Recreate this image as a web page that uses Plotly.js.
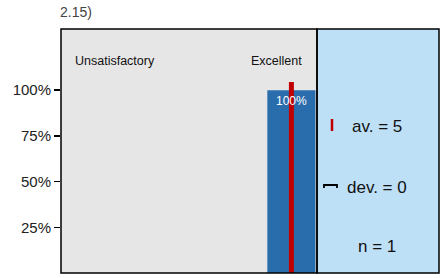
<!DOCTYPE html>
<html><head><meta charset="utf-8">
<script src="https://cdn.plot.ly/plotly-3.0.1.min.js"></script>
<style>html,body{margin:0;padding:0;background:#fff}</style>
</head><body><div id="c" style="width:443px;height:278px"></div>
<script>
var categories = [1, 2, 3, 4, 5];
var shares = [0, 0, 0, 0, 1.0];
var shareLabels = ['', '', '', '', '100%'];
var average = 5;
var deviation = 0;
var count = 1;
var yTicks = [0.25, 0.5, 0.75, 1.0];
var yTickLabels = ['25%', '50%', '75%', '100%'];
var title = '2.15)';
var leftLabel = 'Unsatisfactory';
var rightLabel = 'Excellent';

var px = function(p){ return (p-61)/378; };
var py = function(p){ return (273-p)/244; };
var F = 'Liberation Sans, Arial, sans-serif';

var traces = [
  {type:'bar', x:categories, y:shares, width:0.94, marker:{color:'#2a6dad', line:{width:0}}, hoverinfo:'none'},
  {type:'scatter', mode:'lines', x:[average, average], y:[0, 1.045], line:{color:'#c00000', width:5}, hoverinfo:'none'}
];

var barAnnotations = [];
categories.forEach(function(c, i){
  if (shareLabels[i]) barAnnotations.push({xref:'x', yref:'y', x:c, y:shares[i], yanchor:'top', yshift:-2,
    text:shareLabels[i], showarrow:false, font:{size:12, color:'#ffffff', family:F}});
});

var layout = {
  width:443, height:278,
  margin:{l:61, r:4, t:29, b:5},
  paper_bgcolor:'#ffffff', plot_bgcolor:'#e6e6e6',
  showlegend:false,
  title:{text:title, x:60/443, xanchor:'left', y:1-12/278, yanchor:'middle', font:{size:14, color:'#444', family:F}},
  xaxis:{domain:[0, px(317)], range:[0.5, 5.5], showticklabels:false, showgrid:false, zeroline:false, ticks:'', fixedrange:true},
  yaxis:{range:[0, 1.335], tickvals:yTicks, ticktext:yTickLabels, ticks:'outside', ticklen:6, tickwidth:1.5, tickcolor:'#000',
         showgrid:false, zeroline:false, tickfont:{size:15, color:'#222', family:F}, ticklabelstandoff:0},
  bargap:0.06,
  shapes:[
    {type:'rect', xref:'paper', yref:'paper', x0:px(317), x1:1, y0:0, y1:1, fillcolor:'#bee0f7', line:{color:'#000', width:1.5}, layer:'below'},
    {type:'rect', xref:'paper', yref:'paper', x0:0, x1:px(317), y0:0, y1:1, fillcolor:'rgba(0,0,0,0)', line:{color:'#000', width:1.5}},
    {type:'line', xref:'paper', yref:'paper', x0:px(332), x1:px(332), y0:py(119), y1:py(131), line:{color:'#c00000', width:2.5}},
    {type:'path', xref:'paper', yref:'paper', path:'M '+px(324)+' '+py(188)+' L '+px(324)+' '+py(185)+' L '+px(337)+' '+py(185)+' L '+px(337)+' '+py(188), line:{color:'#000', width:1.8}}
  ],
  annotations:barAnnotations.concat([
    {xref:'paper', yref:'paper', x:px(73), y:py(61), xanchor:'left', yanchor:'middle', text:leftLabel, showarrow:false, font:{size:12.5, color:'#111', family:F}},
    {xref:'paper', yref:'paper', x:px(304), y:py(61), xanchor:'right', yanchor:'middle', text:rightLabel, showarrow:false, font:{size:12.5, color:'#111', family:F}},
    {xref:'paper', yref:'paper', x:px(350), y:py(126), xanchor:'left', yanchor:'middle', text:'av. = ' + average, showarrow:false, font:{size:17, color:'#111', family:F}},
    {xref:'paper', yref:'paper', x:px(345), y:py(187), xanchor:'left', yanchor:'middle', text:'dev. = ' + deviation, showarrow:false, font:{size:17, color:'#111', family:F}},
    {xref:'paper', yref:'paper', x:px(377), y:py(246), xanchor:'center', yanchor:'middle', text:'n = ' + count, showarrow:false, font:{size:17, color:'#111', family:F}}
  ])
};
Plotly.newPlot('c', traces, layout, {displayModeBar:false, staticPlot:true});
</script></body></html>
